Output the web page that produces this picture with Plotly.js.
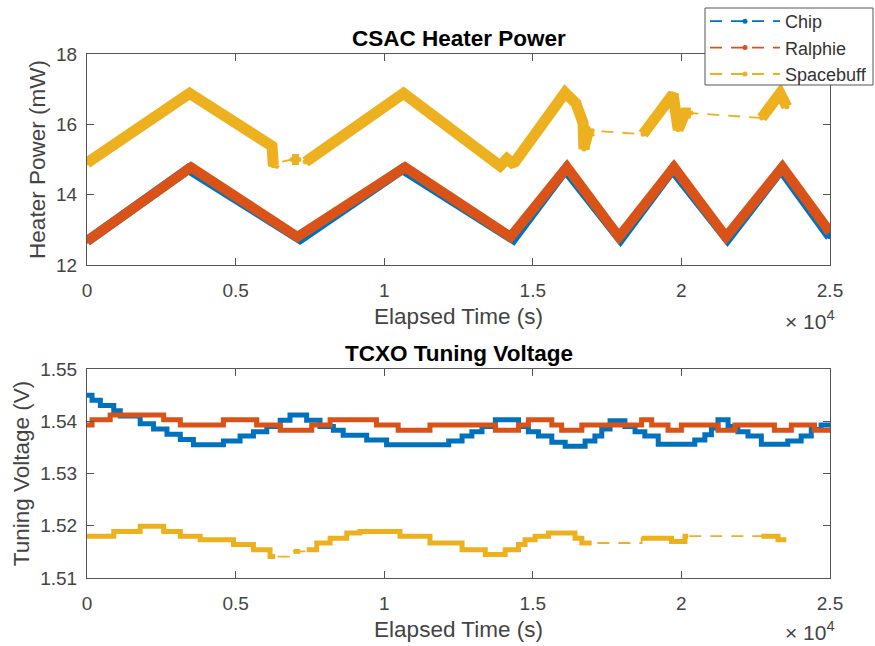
<!DOCTYPE html>
<html>
<head>
<meta charset="utf-8">
<script src="https://cdn.plot.ly/plotly-3.0.1.min.js"></script>
<style>html,body{margin:0;padding:0;background:#fff;}#chart{width:875px;height:646px;}</style>
</head>
<body>
<div id="chart"></div>
<script>
// ---- tick labels ----
const xTickVals = [0, 5000, 10000, 15000, 20000, 25000];
const xTickText = ['0', '0.5', '1', '1.5', '2', '2.5'];
const heaterTickVals = [12, 14, 16, 18];
const tuningTickVals = [1.51, 1.52, 1.53, 1.54, 1.55];
const seriesNames = ['Chip', 'Ralphie', 'Spacebuff'];

// ---- CSAC heater power (mW) ----
const chipHeaterTime = [0, 3410, 7170, 10610, 14340, 16100, 17950, 19700, 21550, 23350, 25000];
const chipHeaterPower = [12.68, 14.73, 12.74, 14.73, 12.74, 14.72, 12.74, 14.72, 12.74, 14.72, 12.8];
const ralphieHeaterTime = [0, 3500, 7080, 10700, 14250, 16150, 17900, 19750, 21500, 23400, 25000];
const ralphieHeaterPower = [12.68, 14.78, 12.8, 14.78, 12.8, 14.78, 12.8, 14.78, 12.8, 14.78, 12.93];
const spacebuffHeaterTime = [0, 3450, 6225, 6240, 6270, 6340, null, 6900, 7130, null, 7350, 10650, 13900, 14130, 14300, 14400, 16085, 16450, 16690, 16720, 16850, 17000, null, 18710, 19720, 19890, 20120, 20320, null, 22700, 23320, 23550];
const spacebuffHeaterPower = [14.9, 16.88, 15.38, 15.0, 14.82, 14.9, null, 15.0, 15.0, null, 14.93, 16.88, 14.82, 15.02, 14.9, 14.93, 16.9, 16.6, 16.04, 15.3, 15.75, 15.82, null, 15.72, 16.86, 15.85, 16.32, 16.32, null, 16.18, 16.88, 16.5];

// ---- TCXO tuning voltage (V) ----
const chipTuneTime = [0, 170, 450, 900, 1120, 1790, 2240, 2690, 3140, 3580, 4590, 5150, 5600, 6050, 6500, 6830, 7390, 7840, 8290, 8620, 9410, 10080, 12170, 12620, 12950, 13290, 13740, 14520, 14850, 15190, 15640, 16090, 16760, 17090, 17320, 17600, 18100, 18440, 18770, 19220, 20450, 20790, 21010, 21230, 21570, 21900, 22240, 22690, 23580, 24030, 24370, 24700, 25000];
const chipTuneVolt = [1.545, 1.544, 1.543, 1.542, 1.541, 1.5395, 1.5385, 1.5375, 1.5365, 1.5355, 1.5362, 1.5372, 1.538, 1.539, 1.5402, 1.5412, 1.5402, 1.539, 1.5383, 1.5373, 1.5364, 1.5355, 1.5362, 1.5372, 1.538, 1.539, 1.5403, 1.539, 1.538, 1.5372, 1.536, 1.5352, 1.5362, 1.5372, 1.5385, 1.5401, 1.539, 1.538, 1.5372, 1.5356, 1.5364, 1.5374, 1.5387, 1.5403, 1.539, 1.538, 1.5372, 1.5356, 1.5362, 1.5372, 1.5384, 1.5393, 1.5397];
const ralphieTuneTime = [0, 170, 780, 2580, 3140, 4590, 5710, 6500, 7560, 8180, 9740, 10470, 11540, 13740, 14520, 14850, 15640, 15970, 16650, 18660, 19000, 19550, 20000, 21230, 21800, 23130, 23700, 24480, 25000];
const ralphieTuneVolt = [1.5393, 1.5403, 1.5412, 1.5403, 1.5393, 1.5403, 1.5393, 1.5383, 1.5393, 1.5403, 1.5393, 1.5383, 1.5393, 1.5383, 1.5393, 1.5403, 1.5393, 1.5383, 1.5393, 1.5403, 1.5393, 1.5383, 1.5393, 1.5383, 1.5393, 1.5383, 1.5393, 1.5383, 1.5383];
const spacebuffTuneTime = [0, 900, 1790, 2580, 3140, 3810, 4930, 5600, 6160, 6330, null, 6950, 7170, null, 7390, 7730, 8180, 8740, 9180, 10530, 11540, 12620, 13400, 14070, 14520, 14740, 15080, 15530, 16420, 16650, 16980, null, 18660, 19670, 20120, 20230, null, 22690, 23250, 23530];
const spacebuffTuneVolt = [1.518, 1.5189, 1.5199, 1.5189, 1.518, 1.5173, 1.5164, 1.5154, 1.5141, 1.5141, null, 1.5151, 1.5151, null, 1.5154, 1.5167, 1.5176, 1.5186, 1.5189, 1.518, 1.5167, 1.5154, 1.5145, 1.5154, 1.5164, 1.5173, 1.518, 1.5186, 1.5176, 1.5167, 1.5167, null, 1.5176, 1.517, 1.518, 1.518, null, 1.518, 1.5173, 1.5173];

const colors = ['#0072BD', '#D95319', '#EDB120'];
const FONT = 'Liberation Sans, Arial, Helvetica, sans-serif';
const W = 875, H = 646;

const heater = [[chipHeaterTime, chipHeaterPower], [ralphieHeaterTime, ralphieHeaterPower], [spacebuffHeaterTime, spacebuffHeaterPower]];
const tuning = [[chipTuneTime, chipTuneVolt], [ralphieTuneTime, ralphieTuneVolt], [spacebuffTuneTime, spacebuffTuneVolt]];

const traces = [];
// thin dashed connectors (also legend entries), drawn underneath
heater.forEach((d, i) => traces.push({
  type: 'scatter', mode: 'lines+markers', x: d[0], y: d[1], name: seriesNames[i],
  legendgroup: seriesNames[i], showlegend: true, connectgaps: true,
  line: {color: colors[i], width: 1.8, dash: '12px,9px'}, marker: {color: colors[i], size: 5},
  xaxis: 'x', yaxis: 'y', hoverinfo: 'skip'
}));
tuning.forEach((d, i) => traces.push({
  type: 'scatter', mode: 'lines', x: d[0], y: d[1], name: seriesNames[i],
  legendgroup: seriesNames[i], showlegend: false, connectgaps: true,
  line: {color: colors[i], width: 1.8, dash: '12px,9px', shape: 'hv'},
  xaxis: 'x2', yaxis: 'y2', hoverinfo: 'skip'
}));
// thick data bands
const heaterWidths = [10, 10, 11];
heater.forEach((d, i) => traces.push({
  type: 'scatter', mode: 'lines', x: d[0], y: d[1], name: seriesNames[i],
  legendgroup: seriesNames[i], showlegend: false, connectgaps: false,
  line: {color: colors[i], width: heaterWidths[i]},
  xaxis: 'x', yaxis: 'y', hoverinfo: 'skip'
}));
tuning.forEach((d, i) => traces.push({
  type: 'scatter', mode: 'lines', x: d[0], y: d[1], name: seriesNames[i],
  legendgroup: seriesNames[i], showlegend: false, connectgaps: false,
  line: {color: colors[i], width: 5, shape: 'hv'},
  xaxis: 'x2', yaxis: 'y2', hoverinfo: 'skip'
}));

const axisCommon = {
  showline: true, linecolor: '#555', linewidth: 1, mirror: 'ticks',
  ticks: 'inside', ticklen: 7, tickwidth: 1, tickcolor: '#555',
  showgrid: false, zeroline: false, automargin: false,
  tickfont: {family: FONT, size: 19, color: '#444'}
};
const xCommon = Object.assign({}, axisCommon, {
  range: [0, 25000], tickmode: 'array', tickvals: xTickVals, ticktext: xTickText,
  ticklabelstandoff: 8,
  title: {text: 'Elapsed Time (s)', font: {family: FONT, size: 22.5, color: '#444'}, standoff: 8}
});
const xDom = [87/W, 830/W];

const layout = {
  width: W, height: H,
  margin: {l: 0, r: 0, t: 0, b: 0},
  paper_bgcolor: '#fff', plot_bgcolor: '#fff',
  font: {family: FONT},
  xaxis: Object.assign({}, xCommon, {domain: xDom, anchor: 'y'}),
  yaxis: Object.assign({}, axisCommon, {
    domain: [1 - 265/H, 1 - 54/H], anchor: 'x', range: [12, 18],
    tickmode: 'array', tickvals: heaterTickVals, ticklabelstandoff: 5,
    title: {text: 'Heater Power (mW)', font: {family: FONT, size: 22.5, color: '#444'}, standoff: 4}
  }),
  xaxis2: Object.assign({}, xCommon, {domain: xDom, anchor: 'y2'}),
  yaxis2: Object.assign({}, axisCommon, {
    domain: [1 - 578/H, 1 - 369/H], anchor: 'x2', range: [1.51, 1.55],
    tickmode: 'array', tickvals: tuningTickVals, tickformat: '.2f', ticklabelstandoff: 5,
    title: {text: 'Tuning Voltage (V)', font: {family: FONT, size: 22.5, color: '#444'}, standoff: 4}
  }),
  legend: {
    x: 705/W, y: 1 - 3/H, xanchor: 'left', yanchor: 'top',
    bgcolor: 'rgba(0,0,0,0)', borderwidth: 0,
    font: {family: FONT, size: 18, color: '#333'}, itemwidth: 70,
    tracegroupgap: 0
  },
  shapes: [
    {type: 'rect', xref: 'paper', yref: 'paper', layer: 'above',
     x0: 705/W, x1: 873/W, y0: 1 - 85/H, y1: 1 - 8/H,
     fillcolor: '#fff', line: {color: '#555', width: 1}}
  ],
  annotations: [
    {xref: 'paper', yref: 'paper', x: 458.5/W, y: 1 - 38/H, xanchor: 'center', yanchor: 'middle',
     text: '<b>CSAC Heater Power</b>', showarrow: false, font: {family: FONT, size: 22.5, color: '#000'}},
    {xref: 'paper', yref: 'paper', x: 458.5/W, y: 1 - 353/H, xanchor: 'center', yanchor: 'middle',
     text: '<b>TCXO Tuning Voltage</b>', showarrow: false, font: {family: FONT, size: 22.5, color: '#000'}},
    {xref: 'paper', yref: 'paper', x: 837/W, y: 1 - 320/H, xanchor: 'right', yanchor: 'middle',
     text: '× 10<sup>4</sup>', showarrow: false, font: {family: FONT, size: 21, color: '#444'}},
    {xref: 'paper', yref: 'paper', x: 837/W, y: 1 - 631/H, xanchor: 'right', yanchor: 'middle',
     text: '× 10<sup>4</sup>', showarrow: false, font: {family: FONT, size: 21, color: '#444'}}
  ]
};

Plotly.newPlot('chart', traces, layout, {staticPlot: true, displayModeBar: false});
</script>
</body>
</html>
